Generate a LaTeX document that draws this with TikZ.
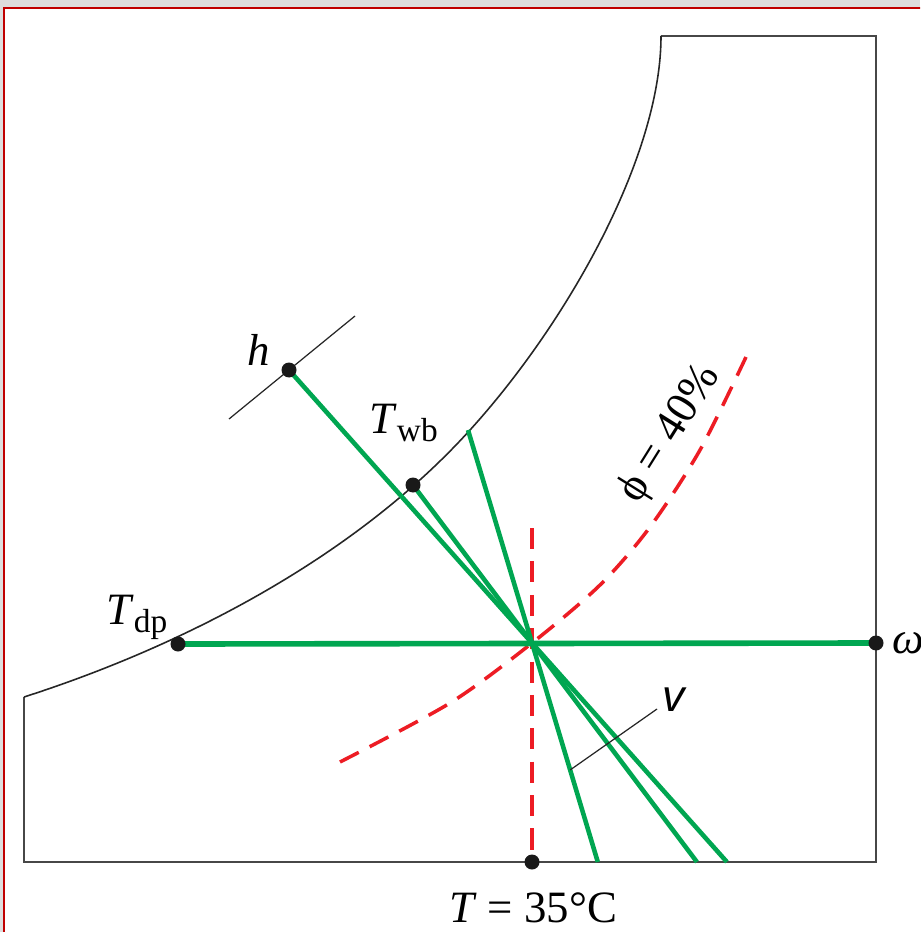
\documentclass[tikz,border=0pt]{standalone}
\usepackage{fontspec}
\setmainfont{Liberation Serif}
\newfontfamily\chartsans{Liberation Sans}
\usetikzlibrary{calc}

\definecolor{chartgreen}{RGB}{0,166,81}
\definecolor{chartred}{RGB}{237,28,36}
\definecolor{pagegray}{RGB}{222,222,222}
\definecolor{framered}{RGB}{192,0,0}
\newcommand{\lowsub}[1]{\raisebox{-0.4ex}{\fontsize{19}{19}\selectfont #1}}

\begin{document}
\begin{tikzpicture}[
  x=0.02cm, y=-0.02cm,
  font=\fontsize{25.5}{30}\selectfont,
  chart/.style={line width=1.2pt, draw=black!72, line join=miter},
  satcurve/.style={line width=0.9pt, draw=black!85},
  prop/.style={line width=2.6pt, draw=chartgreen},
  guide/.style={line width=0.7pt, draw=black!85},
  rh/.style={line width=2pt, draw=chartred, dash pattern=on 12pt off 7pt},
  dot/.style={circle, fill=black!90, inner sep=0pt, minimum size=0.3cm},
  lbl/.style={inner sep=0pt}
]

% page: gray surround and the red-framed white panel
\useasboundingbox (0,0) rectangle (920,932);
\fill[pagegray] (0,0) rectangle (920,932);
\clip (0,0) rectangle (920,932);
\filldraw[fill=white, draw=framered, line width=1.2pt] (4,8) rectangle (940,950);

% chart outline and saturation curve
\draw[chart] (24,697) -- (24,862) -- (876,862) -- (876,36) -- (661,36);
\draw[satcurve] (24,697) .. controls (186,645) and (356,556) .. (470,430)
  .. controls (568,322) and (661,156) .. (661,36);

% key points
\coordinate (state) at (532,643);
\coordinate (hpt) at (289,370);
\coordinate (wbpt) at (413,485);
\coordinate (vtop) at (468,430);
\coordinate (dppt) at (178,644);
\coordinate (wpt) at (876,643);
\coordinate (tpt) at (532,862);
\coordinate (ttop) at (532,528);
\coordinate (hlo) at (229,419);
\coordinate (hhi) at (355,316);
\coordinate (hbot) at ($(hpt)!1.802!(state)$);
\coordinate (wbbot) at ($(wbpt)!2.386!(state)$);
\coordinate (vbot) at ($(vtop)!2.028!(state)$);
\coordinate (vlead) at ($(vtop)!0.787!(vbot)$);
\coordinate (vend) at (657,709);

% enthalpy tick
\draw[guide] (hlo) -- (hhi);

% 40% line and the dry-bulb line
\draw[rh] plot[smooth] coordinates {(340,762) (450,703) (state) (600,585) (650,527) (700,450) (746,357)};
\draw[rh] (ttop) -- (tpt);

% property lines through the state point
\draw[prop, line width=3.2pt] (dppt) -- (wpt);
\draw[prop] (hpt) -- (hbot);
\draw[prop] (wbpt) -- (wbbot);
\draw[prop] (vtop) -- (vbot);

% specific volume leader
\draw[guide] (vlead) -- (vend);

% dots and labels
\node[dot] (hdot) at (hpt) {};
\node[dot] (wbdot) at (wbpt) {};
\node[dot] (dpdot) at (dppt) {};
\node[dot] (wdot) at (wpt) {};
\node[dot] (tdot) at (tpt) {};

\node[lbl] (hlbl) at (259,350) {\textit{h}};
\node[lbl, anchor=base west] (wblbl) at (369,433) {\textit{T}\lowsub{wb}};
\node[lbl, anchor=base west] (dplbl) at (106,624) {\textit{T}\lowsub{dp}};
\node[lbl, anchor=west] (wlbl) at (892,643) {\textit{ω}};
\node[lbl] (vlbl) at (674,700) {\chartsans\itshape v};
\node[lbl, anchor=base] (tlbl) at (533,922) {\textit{T} = 35°C};
\node[lbl, rotate=58] (philbl) at (670,434) {ϕ = 40\%};

\end{tikzpicture}
\end{document}
